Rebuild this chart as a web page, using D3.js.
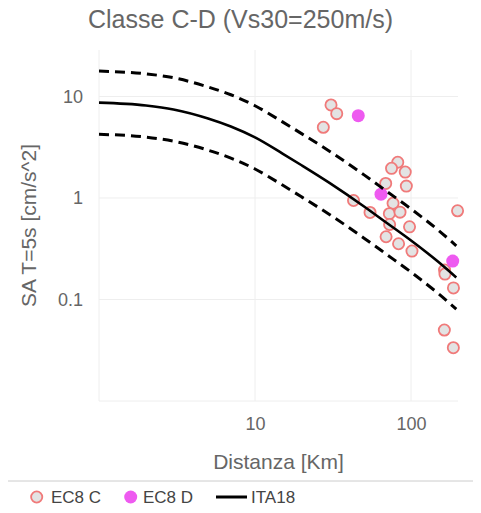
<!DOCTYPE html>
<html>
<head>
<meta charset="utf-8">
<script src="https://cdn.jsdelivr.net/npm/d3@7"></script>
<style>
  html, body { margin: 0; padding: 0; background: #fff; }
  svg { display: block; font-family: "Liberation Sans", Arial, Helvetica, sans-serif; }
</style>
</head>
<body>
<svg id="chart" width="481" height="513"></svg>
<script>
// ---------- data ----------
const title = "Classe C-D (Vs30=250m/s)";
const xTitle = "Distanza [Km]";
const yTitle = "SA T=5s [cm/s^2]";

const ec8cDist = [30.7, 33.4, 27.4, 82.2, 75.0, 91.8, 68.8, 93.3, 42.8, 76.7, 54.6, 72.6, 85.0, 198.7, 72.9, 97.8, 69.2, 83.2, 101.4, 164, 165, 187, 163.5, 186.7];
const ec8cSA   = [8.25, 6.77, 4.97, 2.25, 1.96, 1.80, 1.39, 1.31, 0.945, 0.887, 0.72, 0.70, 0.725, 0.748, 0.548, 0.52, 0.415, 0.354, 0.30, 0.195, 0.178, 0.130, 0.050, 0.0335];

const ec8dDist = [45.9, 64.2, 185];
const ec8dSA   = [6.47, 1.09, 0.239];

const ita18Dist   = [1, 2, 3, 5, 7, 10, 15, 20, 30, 50, 70, 100, 150, 195];
const ita18Median = [8.69, 8.15, 7.45, 6.07, 5.06, 3.95, 2.74, 2.09, 1.41, 0.825, 0.567, 0.381, 0.234, 0.165];
const ita18Upper  = [17.8, 16.7, 15.3, 12.4, 10.4, 8.1, 5.62, 4.28, 2.89, 1.69, 1.16, 0.78, 0.48, 0.338];
const ita18Lower  = [4.24, 3.98, 3.63, 2.96, 2.47, 1.93, 1.34, 1.02, 0.688, 0.402, 0.277, 0.186, 0.114, 0.0805];

const xTickValues = [10, 100];
const xTickLabels = ["10", "100"];
const yTickValues = [0.1, 1, 10];
const yTickLabels = ["0.1", "1", "10"];
const xGridValues = [1, 10, 100];
const yGridValues = [0.01, 0.1, 1, 10];

const legendLabels = ["EC8 C", "EC8 D", "ITA18"];

// ---------- layout ----------
const svg = d3.select("#chart");
const plotL = 99, plotR = 458, plotT = 50, plotB = 401;

const x = d3.scaleLog().domain([1, 200]).range([plotL, plotR]);
const y = d3.scaleLog().domain([0.01, 28.7]).range([plotB, plotT]);

const textGray = "#666";

// grid
svg.append("g").selectAll("line").data(xGridValues).join("line")
  .attr("x1", d => x(d)).attr("x2", d => x(d))
  .attr("y1", plotT).attr("y2", plotB)
  .attr("stroke", "#eee").attr("stroke-width", 1);
svg.append("g").selectAll("line").data(yGridValues).join("line")
  .attr("x1", plotL).attr("x2", plotR)
  .attr("y1", d => y(d)).attr("y2", d => y(d))
  .attr("stroke", "#eee").attr("stroke-width", 1);

// axes (labels only)
const xAxis = svg.append("g").attr("transform", `translate(0,${plotB})`)
  .call(d3.axisBottom(x).tickValues(xTickValues).tickFormat((d, i) => xTickLabels[i]).tickSize(0).tickPadding(16));
xAxis.select(".domain").remove();
xAxis.selectAll("text").attr("font-size", 18).attr("fill", textGray).attr("font-family", null);

const yAxis = svg.append("g").attr("transform", `translate(${plotL},0)`)
  .call(d3.axisLeft(y).tickValues(yTickValues).tickFormat((d, i) => yTickLabels[i]).tickSize(0).tickPadding(16));
yAxis.select(".domain").remove();
yAxis.selectAll("text").attr("font-size", 18).attr("fill", textGray).attr("font-family", null);

// titles
svg.append("text").attr("x", 240.5).attr("y", 28).attr("text-anchor", "middle")
  .attr("font-size", 25).attr("fill", textGray).text(title);
svg.append("text").attr("x", (plotL + plotR) / 2).attr("y", 469).attr("text-anchor", "middle")
  .attr("font-size", 21).attr("fill", textGray).text(xTitle);
svg.append("text").attr("transform", `translate(36,${(plotT + plotB) / 2}) rotate(-90)`)
  .attr("text-anchor", "middle").attr("font-size", 21).attr("fill", textGray).text(yTitle);

// points
const cColor = "#f07a7a", cFill = "#e3e3e3", dColor = "#ee5af0";
svg.append("g").selectAll("circle").data(d3.zip(ec8cDist, ec8cSA)).join("circle")
  .attr("cx", d => x(d[0])).attr("cy", d => y(d[1])).attr("r", 5.6)
  .attr("fill", cFill).attr("stroke", cColor).attr("stroke-width", 1.8);
svg.append("g").selectAll("circle").data(d3.zip(ec8dDist, ec8dSA)).join("circle")
  .attr("cx", d => x(d[0])).attr("cy", d => y(d[1])).attr("r", 6.5)
  .attr("fill", dColor);

// ITA18 lines
const line = d3.line().x(d => x(d[0])).y(d => y(d[1])).curve(d3.curveMonotoneX);
svg.append("path").datum(d3.zip(ita18Dist, ita18Upper)).attr("d", line)
  .attr("fill", "none").attr("stroke", "#000").attr("stroke-width", 3).attr("stroke-dasharray", "10,6");
svg.append("path").datum(d3.zip(ita18Dist, ita18Lower)).attr("d", line)
  .attr("fill", "none").attr("stroke", "#000").attr("stroke-width", 3).attr("stroke-dasharray", "10,6");
svg.append("path").datum(d3.zip(ita18Dist, ita18Median)).attr("d", line)
  .attr("fill", "none").attr("stroke", "#000").attr("stroke-width", 2.6);

// legend
svg.append("line").attr("x1", 8).attr("x2", 473).attr("y1", 481).attr("y2", 481)
  .attr("stroke", "#ccc").attr("stroke-width", 1);
const ly = 497;
const leg = svg.append("g").attr("font-size", 17).attr("fill", "#444");
leg.append("circle").attr("cx", 36.7).attr("cy", ly).attr("r", 5.6)
  .attr("fill", cFill).attr("stroke", cColor).attr("stroke-width", 1.8);
leg.append("text").attr("x", 51).attr("y", ly).attr("dy", "0.35em").text(legendLabels[0]);
leg.append("circle").attr("cx", 130.7).attr("cy", ly).attr("r", 6.5).attr("fill", dColor);
leg.append("text").attr("x", 143).attr("y", ly).attr("dy", "0.35em").text(legendLabels[1]);
leg.append("line").attr("x1", 216).attr("x2", 247).attr("y1", ly).attr("y2", ly)
  .attr("stroke", "#000").attr("stroke-width", 3);
leg.append("text").attr("x", 251).attr("y", ly).attr("dy", "0.35em").text(legendLabels[2]);
</script>
</body>
</html>
